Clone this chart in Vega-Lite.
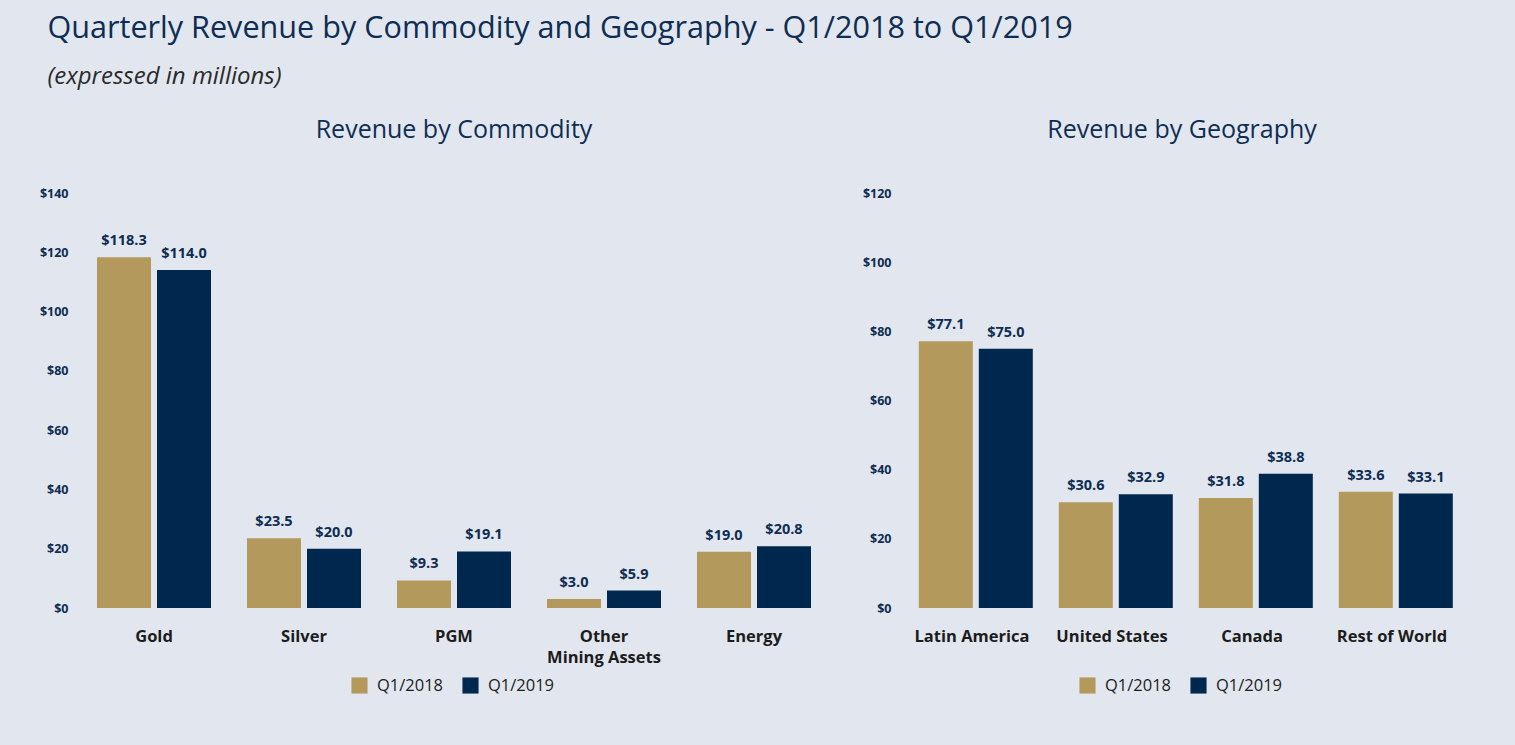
{
  "$schema": "https://vega.github.io/schema/vega-lite/v6.json",
  "background": "#e2e7ef",
  "padding": {"left": 39, "top": 14, "right": 54, "bottom": 53},
  "title": {
    "text": "Quarterly Revenue by Commodity and Geography - Q1/2018 to Q1/2019",
    "subtitle": "(expressed in millions)",
    "anchor": "start",
    "frame": "bounds",
    "dx": 8,
    "font": "Open Sans",
    "fontSize": 30.6,
    "fontWeight": "normal",
    "color": "#0f2d52",
    "subtitleFont": "Open Sans",
    "subtitleFontSize": 24,
    "subtitleFontStyle": "italic",
    "subtitleColor": "#2a2a2a",
    "subtitlePadding": 20,
    "offset": 29
  },
  "datasets": {
    "commodity": [
      {"category": "Gold", "period": "Q1/2018", "value": 118.3},
      {"category": "Gold", "period": "Q1/2019", "value": 114.0},
      {"category": "Silver", "period": "Q1/2018", "value": 23.5},
      {"category": "Silver", "period": "Q1/2019", "value": 20.0},
      {"category": "PGM", "period": "Q1/2018", "value": 9.3},
      {"category": "PGM", "period": "Q1/2019", "value": 19.1},
      {"category": "Other Mining Assets", "period": "Q1/2018", "value": 3.0},
      {"category": "Other Mining Assets", "period": "Q1/2019", "value": 5.9},
      {"category": "Energy", "period": "Q1/2018", "value": 19.0},
      {"category": "Energy", "period": "Q1/2019", "value": 20.8}
    ],
    "geography": [
      {"category": "Latin America", "period": "Q1/2018", "value": 77.1},
      {"category": "Latin America", "period": "Q1/2019", "value": 75.0},
      {"category": "United States", "period": "Q1/2018", "value": 30.6},
      {"category": "United States", "period": "Q1/2019", "value": 32.9},
      {"category": "Canada", "period": "Q1/2018", "value": 31.8},
      {"category": "Canada", "period": "Q1/2019", "value": 38.8},
      {"category": "Rest of World", "period": "Q1/2018", "value": 33.6},
      {"category": "Rest of World", "period": "Q1/2019", "value": 33.1}
    ]
  },
  "spacing": 33,
  "resolve": {"legend": {"color": "independent"}},
  "hconcat": [
    {
      "width": 750,
      "height": 415,
      "title": {"text": "Revenue by Commodity", "font": "Open Sans", "fontSize": 25, "fontWeight": "normal", "color": "#0f2d52", "offset": 44},
      "data": {"name": "commodity"},
      "encoding": {
        "x": {
          "field": "category", "type": "nominal", "sort": null, "title": null,
          "scale": {"paddingInner": 0.24, "paddingOuter": 0.12},
          "axis": {"labelAngle": 0, "labelExpr": "datum.label == 'Other Mining Assets' ? ['Other', 'Mining Assets'] : datum.label"}
        },
        "xOffset": {"field": "period", "type": "nominal", "scale": {"paddingInner": 0.1}},
        "y": {
          "field": "value", "type": "quantitative", "title": null,
          "scale": {"domain": [0, 140]},
          "axis": {"values": [0, 20, 40, 60, 80, 100, 120, 140], "labelExpr": "'$' + datum.value"}
        },
        "color": {
          "field": "period", "type": "nominal",
          "scale": {"domain": ["Q1/2018", "Q1/2019"], "range": ["#b4995d", "#00274d"]},
          "legend": {"orient": "none", "legendX": 272, "legendY": 484, "direction": "horizontal", "title": null}
        }
      },
      "layer": [
        {"mark": {"type": "bar"}},
        {
          "mark": {"type": "text", "baseline": "bottom", "dy": -9, "font": "Open Sans", "fontSize": 14.5, "fontWeight": "bold", "color": "#0f2d52"},
          "encoding": {"text": {"field": "value", "type": "quantitative", "format": "$.1f"}, "color": {"value": "#0f2d52"}}
        }
      ]
    },
    {
      "width": 560,
      "height": 415,
      "title": {"text": "Revenue by Geography", "font": "Open Sans", "fontSize": 25, "fontWeight": "normal", "color": "#0f2d52", "offset": 44},
      "data": {"name": "geography"},
      "encoding": {
        "x": {
          "field": "category", "type": "nominal", "sort": null, "title": null,
          "scale": {"paddingInner": 0.24, "paddingOuter": 0.12},
          "axis": {"labelAngle": 0}
        },
        "xOffset": {"field": "period", "type": "nominal", "scale": {"paddingInner": 0.11}},
        "y": {
          "field": "value", "type": "quantitative", "title": null,
          "scale": {"domain": [0, 120]},
          "axis": {"values": [0, 20, 40, 60, 80, 100, 120], "labelExpr": "'$' + datum.value"}
        },
        "color": {
          "field": "period", "type": "nominal",
          "scale": {"domain": ["Q1/2018", "Q1/2019"], "range": ["#b4995d", "#00274d"]},
          "legend": {"orient": "none", "legendX": 177, "legendY": 484, "direction": "horizontal", "title": null}
        }
      },
      "layer": [
        {"mark": {"type": "bar"}},
        {
          "mark": {"type": "text", "baseline": "bottom", "dy": -9, "font": "Open Sans", "fontSize": 14.5, "fontWeight": "bold", "color": "#0f2d52"},
          "encoding": {"text": {"field": "value", "type": "quantitative", "format": "$.1f"}, "color": {"value": "#0f2d52"}}
        }
      ]
    }
  ],
  "config": {
    "view": {"stroke": null},
    "font": "Open Sans",
    "axisX": {"domain": false, "ticks": false, "grid": false, "labelFont": "Open Sans", "labelFontSize": 16.5, "labelFontWeight": "bold", "labelColor": "#1c1c1c", "labelPadding": 20, "labelLineHeight": 21},
    "axisY": {"domain": false, "ticks": false, "grid": false, "labelFont": "Open Sans", "labelFontSize": 12.5, "labelFontWeight": "bold", "labelColor": "#0f2d52", "labelPadding": 11},
    "legend": {"symbolType": "square", "symbolSize": 260, "symbolStrokeWidth": 0, "labelFont": "Open Sans", "labelFontSize": 16.5, "labelColor": "#1c1c1c", "columnPadding": 18, "labelOffset": 9}
  }
}
